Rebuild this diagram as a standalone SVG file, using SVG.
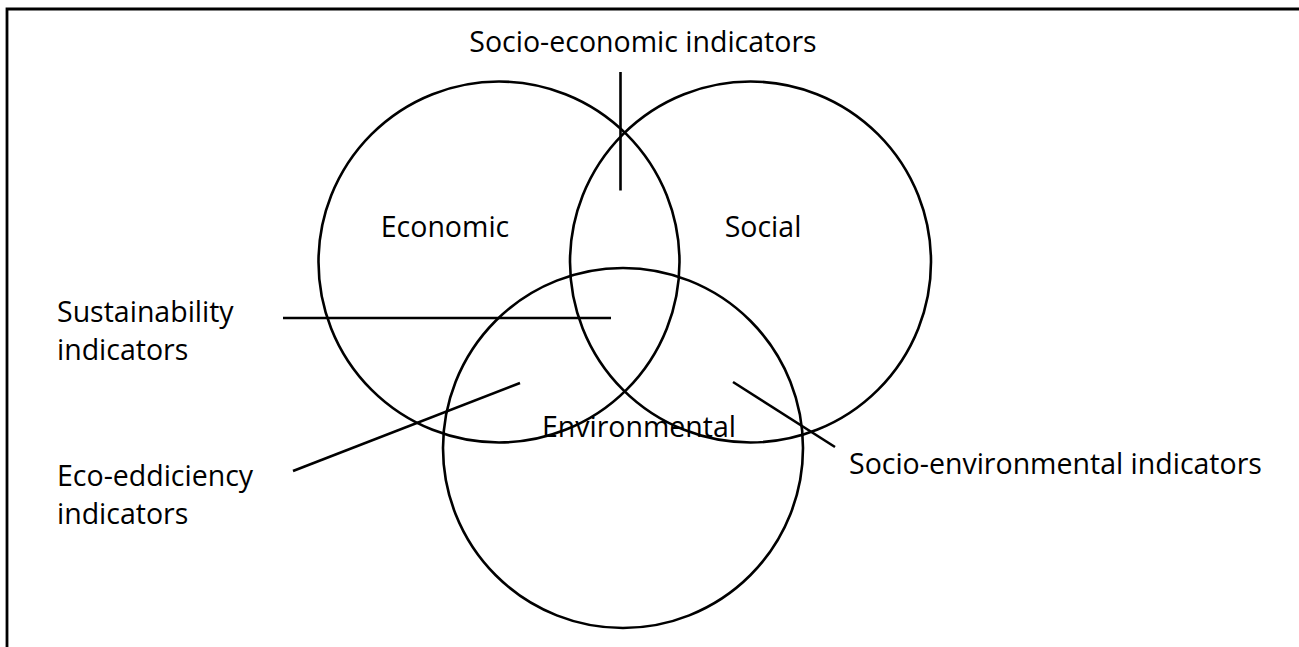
<svg xmlns="http://www.w3.org/2000/svg" width="1299" height="647" viewBox="0 0 1299 647">
<style>
.c{fill:none;stroke:#000;stroke-width:2.6}
.l{fill:none;stroke:#000;stroke-width:2.6}
.t{font-family:"Open Sans","Noto Sans",sans-serif;font-size:28.5px;fill:#000}
</style>
<rect width="1299" height="647" fill="#fff"/>
<path d="M7,647 V9 H1299" fill="none" stroke="#000" stroke-width="2.8"/>
<g id="economic"><circle class="c" cx="499" cy="262" r="180.5"/><text class="t" x="445" y="237" text-anchor="middle">Economic</text></g>
<g id="social"><circle class="c" cx="750.5" cy="262" r="180.5"/><text class="t" x="763" y="237" text-anchor="middle">Social</text></g>
<g id="environmental"><circle class="c" cx="623" cy="448" r="180"/><text class="t" x="639" y="437" text-anchor="middle">Environmental</text></g>
<g id="labels">
<text class="t" x="643" y="52" text-anchor="middle">Socio-economic indicators</text>
<text class="t" x="57" y="322">Sustainability</text>
<text class="t" x="57" y="360">indicators</text>
<text class="t" x="57" y="486">Eco-eddiciency</text>
<text class="t" x="57" y="524">indicators</text>
<text class="t" x="849" y="474">Socio-environmental indicators</text>
</g>
<g id="connectors">
<line class="l" x1="620.5" y1="72" x2="620.5" y2="190.5"/>
<line class="l" x1="283" y1="318" x2="611" y2="318"/>
<line class="l" x1="293" y1="471" x2="520" y2="383"/>
<line class="l" x1="733" y1="382" x2="835" y2="447"/>
</g>
</svg>
